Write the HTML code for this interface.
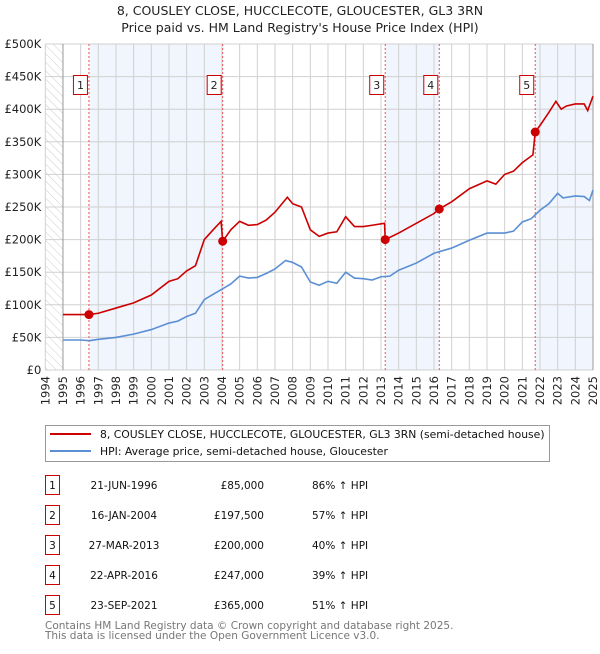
<!DOCTYPE html>
<html><head><meta charset="utf-8"><style>
body{margin:0;background:#fff;font-family:"DejaVu Sans","Liberation Sans",sans-serif;}
svg text{font-family:"DejaVu Sans","Liberation Sans",sans-serif;}
</style></head><body>
<svg id="c" width="600" height="650" xmlns="http://www.w3.org/2000/svg">
<defs><pattern id="hatch" width="6" height="6" patternUnits="userSpaceOnUse" patternTransform="rotate(-45)"><line x1="0" y1="0" x2="0" y2="6" stroke="#ccc" stroke-width="1"/></pattern></defs>
<text x="300" y="15" text-anchor="middle" font-size="12.5" fill="#222">8, COUSLEY CLOSE, HUCCLECOTE, GLOUCESTER, GL3 3RN</text>
<text x="300" y="32" text-anchor="middle" font-size="12.5" fill="#222">Price paid vs. HM Land Registry's House Price Index (HPI)</text>
<g id="plot"></g>
<g>
<rect x="45.5" y="425.5" width="504" height="36" fill="#fff" stroke="#999"/>
<line x1="50" y1="434" x2="91" y2="434" stroke="#cc0000" stroke-width="2"/>
<text x="100" y="438" font-size="10.8" fill="#111">8, COUSLEY CLOSE, HUCCLECOTE, GLOUCESTER, GL3 3RN (semi-detached house)</text>
<line x1="50" y1="451" x2="91" y2="451" stroke="#5b8fd4" stroke-width="2"/>
<text x="100" y="455" font-size="10.8" fill="#111">HPI: Average price, semi-detached house, Gloucester</text>
</g>
<g id="table"></g>
<text x="45" y="629" font-size="10.5" fill="#777">Contains HM Land Registry data © Crown copyright and database right 2025.</text>
<text x="45" y="639" font-size="10.5" fill="#777">This data is licensed under the Open Government Licence v3.0.</text>
</svg>
<script>
const hpiYears=[1995,1996,1996.5,1997,1998,1999,2000,2001,2001.5,2002,2002.5,2003,2003.5,2004,2004.5,2005,2005.5,2006,2006.5,2007,2007.6,2008,2008.5,2009,2009.5,2010,2010.5,2011,2011.5,2012,2012.5,2013,2013.5,2014,2015,2016,2017,2018,2019,2020,2020.5,2021,2021.5,2022,2022.5,2023,2023.3,2024,2024.5,2024.8,2025];
const hpiValues=[46000,46000,45000,47000,50000,55000,62000,72000,75000,82000,87000,108000,116000,124000,132000,144000,141000,142000,148000,155000,168000,165000,158000,135000,130000,136000,133000,150000,141000,140000,138000,143000,144000,153000,164000,179000,187000,199000,210000,210000,213000,227000,232000,245000,255000,271000,264000,267000,266000,260000,276000];
const redYears=[1995,1996.47,1997,1998,1999,2000,2001,2001.5,2002,2002.5,2003,2003.5,2003.95,2004.04,2004.5,2005,2005.5,2006,2006.5,2007,2007.7,2008,2008.5,2009,2009.5,2010,2010.5,2011,2011.5,2012,2012.5,2013.2,2013.24,2014,2015,2016,2016.3,2017,2018,2019,2019.5,2020,2020.5,2021,2021.6,2021.73,2022,2022.5,2022.9,2023.2,2023.5,2024,2024.5,2024.7,2025];
const redValues=[85000,85000,87000,95000,103000,115000,136000,140000,152000,160000,200000,215000,228000,197500,215000,228000,222000,223000,230000,242000,265000,255000,250000,215000,205000,210000,212000,235000,220000,220000,222000,225000,200000,210000,225000,240000,247000,258000,278000,290000,285000,300000,305000,318000,330000,365000,375000,395000,412000,400000,405000,408000,408000,398000,420000];
const saleYears=[1996.47,2004.04,2013.24,2016.3,2021.73];
const salePrices=[85000,197500,200000,247000,365000];
const saleLabels=["1","2","3","4","5"];
const saleDates=["21-JUN-1996","16-JAN-2004","27-MAR-2013","22-APR-2016","23-SEP-2021"];
const salePriceText=["£85,000","£197,500","£200,000","£247,000","£365,000"];
const saleHpiText=["86% ↑ HPI","57% ↑ HPI","40% ↑ HPI","39% ↑ HPI","51% ↑ HPI"];
const yTicks=[0,50000,100000,150000,200000,250000,300000,350000,400000,450000,500000];
const yTickLabels=["£0","£50K","£100K","£150K","£200K","£250K","£300K","£350K","£400K","£450K","£500K"];
const xTicks=[1994,1995,1996,1997,1998,1999,2000,2001,2002,2003,2004,2005,2006,2007,2008,2009,2010,2011,2012,2013,2014,2015,2016,2017,2018,2019,2020,2021,2022,2023,2024,2025];

const NS="http://www.w3.org/2000/svg";
const L=45.3,R=593,T=44,B=370;
const x=y=>L+(y-1994)*(R-L)/31;
const yv=v=>B-v*(B-T)/500000;
const g=document.getElementById('plot');
function mk(tag,attrs,parent){const e=document.createElementNS(NS,tag);for(const k in attrs)e.setAttribute(k,attrs[k]);(parent||g).appendChild(e);return e;}
const bands=[[saleYears[0],saleYears[1]],[saleYears[2],saleYears[3]],[saleYears[4],2025]];
bands.forEach(b=>{const r=mk('rect',{x:x(b[0]),y:T,width:x(b[1])-x(b[0]),height:B-T,fill:'#eef3fc',opacity:0.8});

});
const h=mk('rect',{x:L,y:T,width:x(1995)-L,height:B-T,fill:'url(#hatch)'});


xTicks.forEach(t=>{const l=mk('line',{x1:x(t),x2:x(t),y1:T,y2:B,stroke:'#d0d0d0'});


const tx=mk('text',{x:0,y:0,'font-size':11.5,fill:'#222','text-anchor':'end',transform:`translate(${x(t)+4},${B+6}) rotate(-90)`});tx.textContent=t;

});
yTicks.forEach((t,i)=>{const l=mk('line',{x1:L,x2:R,y1:yv(t),y2:yv(t),stroke:'#d0d0d0'});


const tx=mk('text',{x:L-4,y:yv(t)+4,'font-size':11.5,fill:'#222','text-anchor':'end'});tx.textContent=yTickLabels[i];

});
mk('line',{x1:x(1995),x2:x(1995),y1:T,y2:B,stroke:'#999'});
mk('line',{x1:R,x2:R,y1:T,y2:B,stroke:'#999'});
saleYears.forEach(s=>{const l=mk('line',{x1:x(s),x2:x(s),y1:T,y2:B,stroke:'#e55','stroke-dasharray':'2,2','stroke-width':1});

});
const hp=mk('polyline',{points:hpiYears.map((t,i)=>x(t)+','+yv(hpiValues[i])).join(' '),fill:'none',stroke:'#5b8fd4','stroke-width':1.6});


const rp=mk('polyline',{points:redYears.map((t,i)=>x(t)+','+yv(redValues[i])).join(' '),fill:'none',stroke:'#cc0000','stroke-width':1.6});


saleYears.forEach((s,i)=>{const c=mk('circle',{cx:x(s),cy:yv(salePrices[i]),r:4.5,fill:'#cc0000'});


const bx=x(s)-8;
const r=mk('rect',{x:bx-7.5,y:75.5,width:14,height:19,fill:'#fff',stroke:'#cc0000'});


const t=mk('text',{x:bx-0.5,y:89,'font-size':11,'text-anchor':'middle',fill:'#222'});t.textContent=saleLabels[i];

});
const tb=document.getElementById('table');
saleLabels.forEach((lab,i)=>{const cy=485+i*30;
const r=mk('rect',{x:45.5,y:cy-9.5,width:14,height:19,fill:'#fff',stroke:'#cc0000'},tb);


const cells=[[52.5,'middle',lab,'table-row-number'],[124,'middle',saleDates[i],'table-date'],[264,'end',salePriceText[i],'table-price'],[312,'start',saleHpiText[i],'table-hpi-change']];
cells.forEach(c=>{const t=mk('text',{x:c[0],y:cy+4,'font-size':10.5,'text-anchor':c[1],fill:'#111'},tb);t.textContent=c[2];

});});
</script>
</body></html>
